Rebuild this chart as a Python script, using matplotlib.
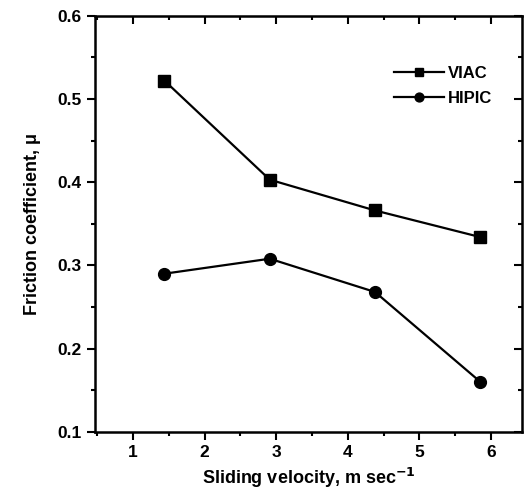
import numpy as np
import matplotlib.pyplot as plt
from matplotlib.ticker import MultipleLocator

# datos
velocidad = [1.44, 2.91, 4.38, 5.85]
viac = [0.522, 0.403, 0.366, 0.334]
hipic = [0.290, 0.308, 0.268, 0.160]

plt.rcParams['font.family'] = ['Liberation Sans', 'DejaVu Sans']
plt.rcParams['font.weight'] = 'bold'

fig = plt.figure(figsize=(5.25, 4.94), dpi=100)
ax = fig.add_axes([0.181, 0.126, 0.813, 0.842])

ax.plot(velocidad, viac, '-s', color='black', lw=1.6, ms=8, label='VIAC')
ax.plot(velocidad, hipic, '-o', color='black', lw=1.6, ms=8.5, label='HIPIC')

ax.set_xlim(0.47, 6.43)
ax.set_ylim(0.1, 0.6)
ax.xaxis.set_major_locator(MultipleLocator(1))
ax.xaxis.set_minor_locator(MultipleLocator(0.5))
ax.yaxis.set_major_locator(MultipleLocator(0.1))
ax.yaxis.set_minor_locator(MultipleLocator(0.05))
ax.tick_params(which='both', direction='out', width=1.5, labelsize=12.5)
ax.tick_params(which='major', length=6)
ax.tick_params(which='minor', length=3)
for s in ax.spines.values():
    s.set_linewidth(1.8)

# ticks hacia adentro arriba y a la derecha
arriba = ax.secondary_xaxis('top')
arriba.xaxis.set_major_locator(MultipleLocator(1))
arriba.xaxis.set_minor_locator(MultipleLocator(0.5))
arriba.tick_params(which='both', direction='in', width=1.5, labeltop=False)
arriba.tick_params(which='major', length=6)
arriba.tick_params(which='minor', length=3)
derecha = ax.secondary_yaxis('right')
derecha.yaxis.set_major_locator(MultipleLocator(0.1))
derecha.yaxis.set_minor_locator(MultipleLocator(0.05))
derecha.tick_params(which='both', direction='in', width=1.5, labelright=False)
derecha.tick_params(which='major', length=6)
derecha.tick_params(which='minor', length=3)

ax.set_xlabel('Sliding velocity, m sec$^{\\mathbf{-1}}$', fontsize=13, fontweight='bold', labelpad=4)
ax.set_ylabel('Friction coefficient, μ', fontsize=13, fontweight='bold', labelpad=12)

ax.legend(loc='upper right', bbox_to_anchor=(0.965, 0.915), frameon=False,
          handlelength=3, handletextpad=0.2, markerscale=0.75,
          labelspacing=0.6, prop={'size': 12, 'weight': 'bold'})

plt.savefig('out.png', dpi=100)
